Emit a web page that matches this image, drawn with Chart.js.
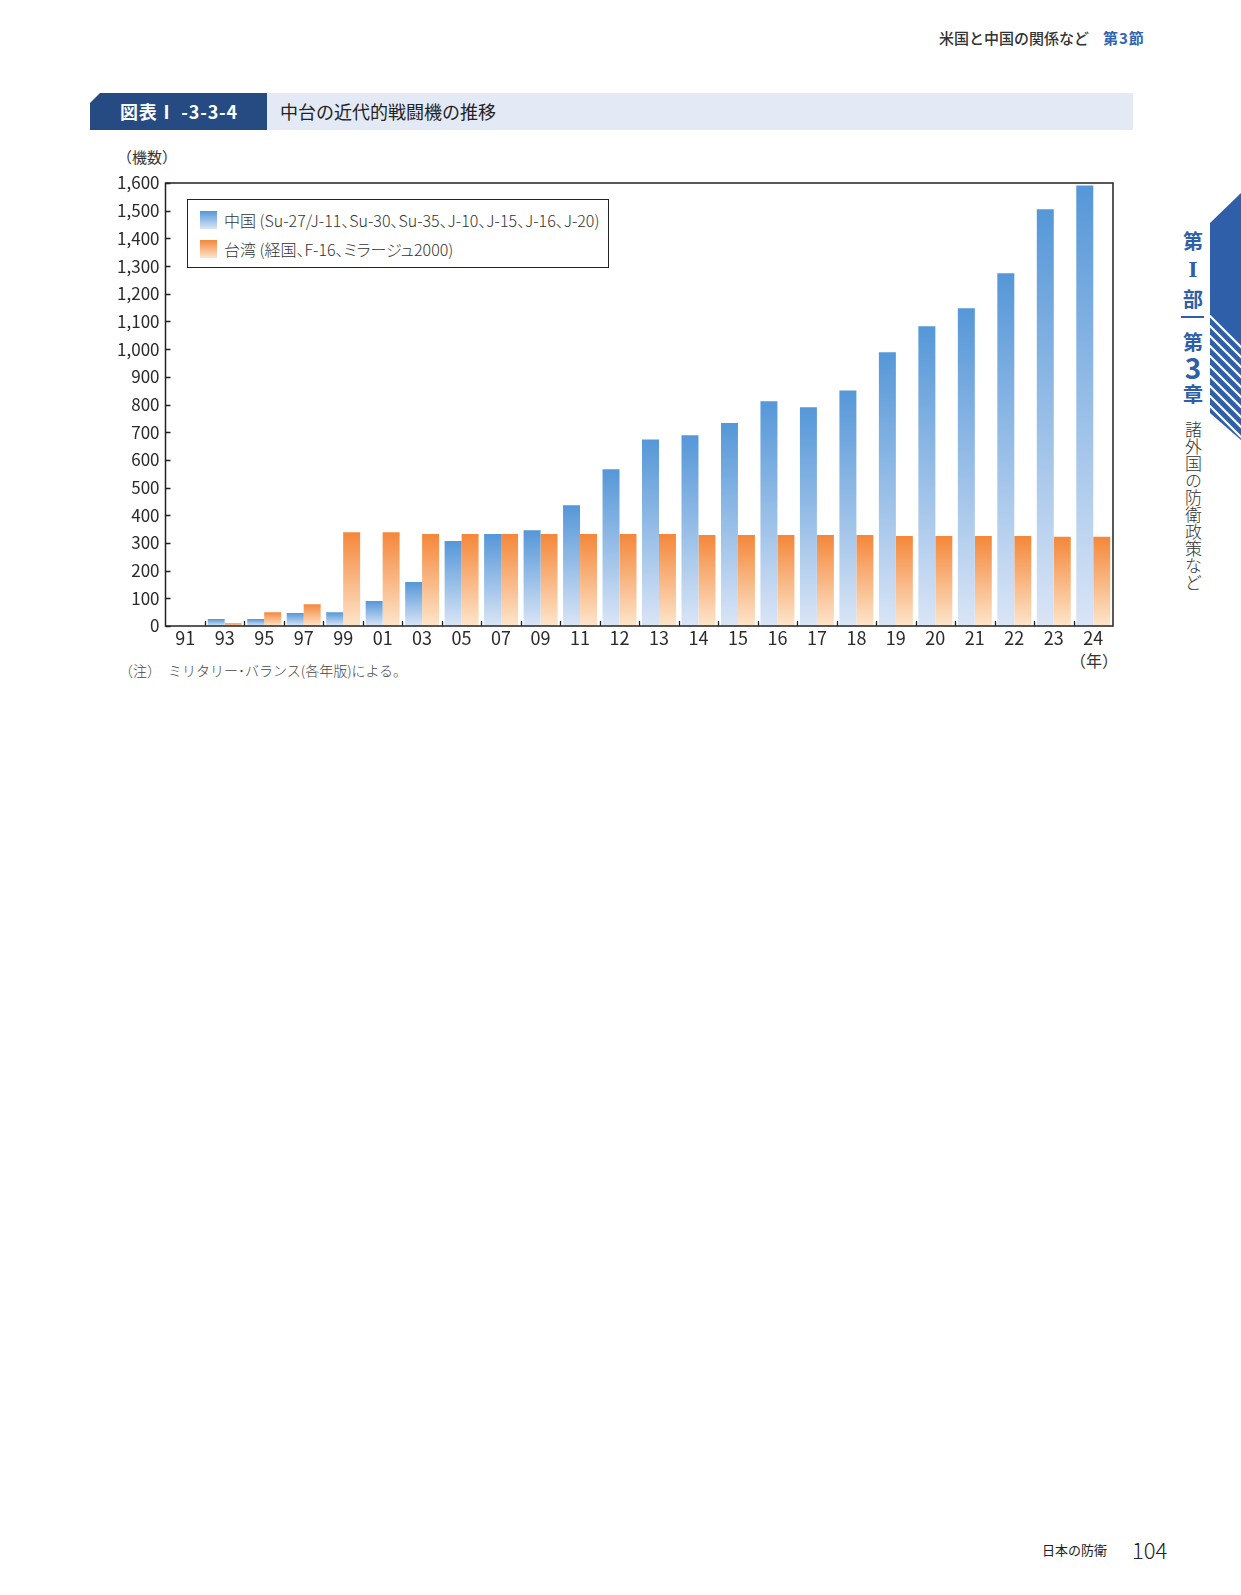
<!DOCTYPE html>
<html lang="ja">
<head>
<meta charset="utf-8">
<script src="https://cdn.jsdelivr.net/npm/chart.js@4.4.1/dist/chart.umd.min.js"></script>
<style>
  html, body { margin: 0; padding: 0; background: #fff; }
  body { width: 1241px; height: 1595px; position: relative; overflow: hidden;
         font-family: "Noto Sans CJK JP", "Noto Sans", sans-serif; color: #222; }
  .abs { position: absolute; white-space: nowrap; }
  #chartWrap { position: absolute; left: 100px; top: 140px; width: 1030px; height: 560px; }
  #legend { position: absolute; left: 187px; top: 199px; width: 422px; height: 69px;
            border: 1px solid #222; background: #fff; box-sizing: border-box; }
  .lg-item { position: absolute; left: 12px; height: 18px; display: flex; align-items: center; white-space: nowrap; }
  .lg-sw { width: 17px; height: 18px; margin-right: 7px; flex: none; }
  .lg-tx { font-size: 16px; color: #333; font-weight: 300; font-feature-settings: "palt"; white-space: nowrap; }
  .vt { position: absolute; width: 30px; text-align: center; transform: translate(-50%, -50%); }
</style>
</head>
<body>
<!-- header -->
<div class="abs" style="left:939px; top:27px; font-size:15px; font-weight:500; color:#333;">米国と中国の関係など</div>
<div class="abs" style="left:1103px; top:27px; font-size:15px; font-weight:700; color:#2f64b0; letter-spacing:1px;">第3節</div>

<!-- title bar -->
<div class="abs" style="left:267px; top:93px; width:866px; height:37px; background:#e3eaf6;"></div>
<div class="abs" style="left:90px; top:93px; width:177px; height:37px; background:#264a82;
     clip-path: polygon(10px 0, 100% 0, 100% 100%, 0 100%, 0 10px);"></div>
<div class="abs" style="left:120px; top:98px; font-size:18px; font-weight:700; color:#fff; line-height:26px; letter-spacing:0.8px;">図表Ⅰ -3-3-4</div>
<div class="abs" style="left:280px; top:98px; font-size:18px; color:#222; line-height:26px;">中台の近代的戦闘機の推移</div>

<!-- axis captions -->
<div class="abs" style="left:117px; top:146px; font-size:15px; color:#333;">（機数）</div>
<div class="abs" style="left:1070px; top:648px; font-size:16px; color:#333;">（年）</div>
<div class="abs" style="left:119px; top:660px; font-size:14px; color:#444; font-weight:300;">（注）　ミリタリー･バランス(各年版)による。</div>

<div id="chartWrap"><canvas id="c"></canvas></div>
<div id="legend"></div>

<!-- right tab -->
<svg class="abs" style="left:1205px; top:185px;" width="36" height="270" viewBox="1205 185 36 270">
  <defs>
    <clipPath id="tabclip"><polygon points="1210,223 1241,193 1241,440 1210,413"/></clipPath>
  </defs>
  <polygon points="1210,223 1241,193 1241,440 1210,413" fill="#2f5fa8"/>
  <g clip-path="url(#tabclip)" stroke="#fff" stroke-width="2.2">
    <line x1="1205" y1="311" x2="1245" y2="351"/>
    <line x1="1205" y1="321" x2="1245" y2="361"/>
    <line x1="1205" y1="331" x2="1245" y2="371"/>
    <line x1="1205" y1="341" x2="1245" y2="381"/>
    <line x1="1205" y1="351" x2="1245" y2="391"/>
    <line x1="1205" y1="361" x2="1245" y2="401"/>
    <line x1="1205" y1="371" x2="1245" y2="411"/>
    <line x1="1205" y1="381" x2="1245" y2="421"/>
    <line x1="1205" y1="391" x2="1245" y2="431"/>
    <line x1="1205" y1="401" x2="1245" y2="441"/>
  </g>
</svg>
<div class="vt" style="left:1193px; top:240px; font-size:20px; font-weight:700; color:#2f5fa8;">第</div>
<div class="vt" style="left:1193px; top:269px; font-size:24px; font-weight:700; color:#2f5fa8; font-family:'Liberation Serif', serif;">I</div>
<div class="vt" style="left:1193px; top:298px; font-size:20px; font-weight:700; color:#2f5fa8;">部</div>
<div class="abs" style="left:1181px; top:316px; width:23px; height:2px; background:#2f5fa8;"></div>
<div class="vt" style="left:1193px; top:341px; font-size:20px; font-weight:700; color:#2f5fa8;">第</div>
<div class="vt" style="left:1193px; top:367px; font-size:28px; font-weight:700; color:#2f5fa8;">3</div>
<div class="vt" style="left:1193px; top:393px; font-size:20px; font-weight:700; color:#2f5fa8;">章</div>
<div class="abs" style="left:1184px; top:421px; font-size:17px; color:#333; font-weight:300; writing-mode: vertical-rl; line-height:18px;">諸外国の防衛政策など</div>

<!-- footer -->
<div class="abs" style="left:1042px; top:1540px; font-size:13px; color:#222;">日本の防衛</div>
<div class="abs" style="left:1132px; top:1533px; font-size:22px; color:#222; font-weight:300;">104</div>

<script>
// ---- data ----
const years = ["91","93","95","97","99","01","03","05","07","09","11","12","13","14","15","16","17","18","19","20","21","22","23","24"];
const chinaFighters = [null, 25, 25, 47, 50, 90, 159, 307, 332, 346, 436, 566, 674, 689, 733, 812, 790, 851, 989, 1083, 1148, 1274, 1505, 1591];
const taiwanFighters = [null, 10, 50, 79, 339, 339, 332, 332, 332, 332, 332, 332, 332, 329, 329, 329, 329, 329, 325, 325, 325, 325, 322, 322];
const seriesLabels = ["中国 (Su-27/J-11、Su-30、Su-35、J-10、J-15、J-16、J-20)", "台湾 (経国、F-16、ミラージュ2000)"];
const yMax = 1600, yStep = 100;

const blueTop = "#5597d8", blueBottom = "#dae5f6";
const orangeTop = "#f4873a", orangeBottom = "#fde5cb";

function barGradient(top, bottom) {
  return function (ctx) {
    const chart = ctx.chart;
    if (!chart.chartArea || ctx.type !== 'data' || ctx.parsed == null) return top;
    const ys = chart.scales.y;
    const y0 = ys.getPixelForValue(ctx.parsed.y);
    const y1 = ys.getPixelForValue(0);
    if (!(y1 > y0)) return top;
    const g = chart.ctx.createLinearGradient(0, y0, 0, y1);
    g.addColorStop(0, top);
    g.addColorStop(1, bottom);
    return g;
  };
}

const frameAndTicks = {
  id: 'frameAndTicks',
  afterDraw(chart) {
    const { ctx, chartArea: a, scales: { x, y } } = chart;
    ctx.save();
    ctx.strokeStyle = '#222';
    ctx.lineWidth = 1.5;
    ctx.strokeRect(a.left, a.top, a.right - a.left, a.bottom - a.top);
    ctx.lineWidth = 1.3;
    ctx.beginPath();
    y.ticks.forEach(t => {
      const py = Math.round(y.getPixelForValue(t.value)) + 0.5;
      ctx.moveTo(a.left, py); ctx.lineTo(a.left + 5, py);
    });
    for (let i = 1; i < years.length; i++) {
      const px = Math.round((x.getPixelForValue(i - 1) + x.getPixelForValue(i)) / 2) + 0.5;
      ctx.moveTo(px, a.bottom); ctx.lineTo(px, a.bottom - 5);
    }
    ctx.stroke();
    ctx.restore();
  }
};

const tickFont = '"Noto Sans CJK JP", sans-serif';

const chart = new Chart(document.getElementById('c'), {
  type: 'bar',
  data: {
    labels: years,
    datasets: [
      { label: seriesLabels[0], data: chinaFighters, backgroundColor: barGradient(blueTop, blueBottom),
        categoryPercentage: 0.86, barPercentage: 1.0, borderWidth: 0 },
      { label: seriesLabels[1], data: taiwanFighters, backgroundColor: barGradient(orangeTop, orangeBottom),
        categoryPercentage: 0.86, barPercentage: 1.0, borderWidth: 0 }
    ]
  },
  options: {
    responsive: true,
    maintainAspectRatio: false,
    animation: false,
    layout: { padding: { top: 43, right: 17, left: 0, bottom: 0 } },
    plugins: { legend: { display: false }, tooltip: { enabled: false } },
    scales: {
      x: {
        grid: { display: false, drawTicks: false },
        border: { display: false },
        ticks: { color: '#2a2a2a', font: { family: tickFont, size: 18, weight: 400 }, padding: 1, maxRotation: 0, autoSkip: false },
        afterFit(scale) { scale.height = 74; }
      },
      y: {
        min: 0, max: yMax,
        grid: { display: false, drawTicks: false },
        border: { display: false },
        ticks: {
          stepSize: yStep, color: '#2a2a2a', padding: 6,
          font: { family: tickFont, size: 17, weight: 400 },
          callback: v => v.toLocaleString('en-US')
        },
        afterFit(scale) { scale.width = 65.5; }
      }
    }
  },
  plugins: [frameAndTicks]
});

// HTML legend built from the chart's datasets
const legendEl = document.getElementById('legend');
const swatches = [[blueTop, blueBottom], [orangeTop, orangeBottom]];
chart.data.datasets.forEach((ds, i) => {
  const item = document.createElement('div');
  item.className = 'lg-item';
  item.style.top = (11 + i * 28.5) + 'px';
  const sw = document.createElement('div');
  sw.className = 'lg-sw';
  sw.style.background = `linear-gradient(${swatches[i][0]}, ${swatches[i][1]})`;
  const tx = document.createElement('span');
  tx.className = 'lg-tx';
  tx.textContent = ds.label;
  item.appendChild(sw); item.appendChild(tx);
  legendEl.appendChild(item);
});
</script>
</body>
</html>
